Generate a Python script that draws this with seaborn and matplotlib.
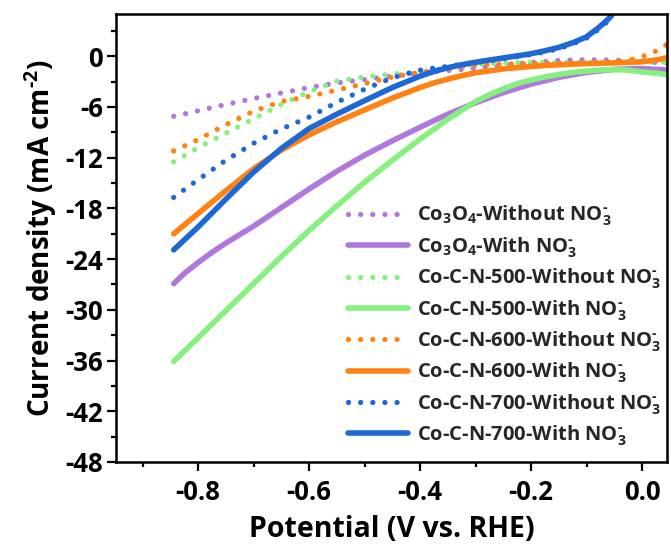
import matplotlib
matplotlib.use("Agg")
import matplotlib.pyplot as plt
import pandas as pd
import seaborn as sns

# ---------------- data ----------------
x_co3o4_without = [-0.844, -0.80, -0.75, -0.70, -0.65, -0.60, -0.55, -0.50, -0.45, -0.40,
                   -0.35, -0.30, -0.25, -0.20, -0.15, -0.10, -0.05, 0.00, 0.05]
y_co3o4_without = [-7.1, -6.45, -5.7, -5.0, -4.35, -3.7, -3.15, -2.75, -2.35, -1.95,
                   -1.7, -1.4, -1.05, -0.75, -0.5, -0.4, -0.45, -0.6, -0.85]

x_co3o4_with = [-0.844, -0.825, -0.80, -0.775, -0.75, -0.70, -0.65, -0.60, -0.55, -0.50,
                -0.45, -0.40, -0.35, -0.30, -0.25, -0.20, -0.15, -0.10, -0.05, 0.00, 0.05]
y_co3o4_with = [-26.9, -25.7, -24.4, -23.2, -22.1, -20.1, -17.9, -15.7, -13.6, -11.7,
                -10.0, -8.4, -6.85, -5.5, -4.3, -3.3, -2.5, -1.9, -1.55, -1.45, -1.65]

x_ccn500_without = [-0.844, -0.80, -0.75, -0.70, -0.65, -0.60, -0.55, -0.50, -0.45, -0.40,
                    -0.35, -0.30, -0.25, -0.20, -0.15, -0.10, -0.05, 0.00, 0.05]
y_ccn500_without = [-12.5, -10.8, -9.1, -7.4, -5.7, -4.2, -2.95, -2.45, -2.1, -1.8,
                    -1.3, -0.95, -0.8, -0.75, -0.75, -0.75, -0.75, -0.72, -0.68]

x_ccn500_with = [-0.844, -0.80, -0.75, -0.70, -0.65, -0.60, -0.55, -0.50, -0.45, -0.40,
                 -0.35, -0.30, -0.275, -0.25, -0.225, -0.20, -0.175, -0.15, -0.125, -0.10,
                 -0.075, -0.05, -0.025, 0.00, 0.025, 0.05]
y_ccn500_with = [-36.1, -33.3, -30.1, -26.9, -23.7, -20.6, -17.7, -14.9, -12.3, -9.8,
                 -7.45, -5.35, -4.55, -3.85, -3.25, -2.8, -2.45, -2.15, -1.9, -1.75,
                 -1.62, -1.58, -1.65, -1.85, -2.0, -2.2]

x_ccn600_without = [-0.844, -0.80, -0.75, -0.70, -0.65, -0.60, -0.55, -0.50, -0.45, -0.40,
                    -0.35, -0.30, -0.25, -0.20, -0.15, -0.10, -0.05, -0.025, 0.00, 0.025,
                    0.05]
y_ccn600_without = [-11.2, -9.85, -8.1, -6.5, -5.35, -4.75, -4.0, -3.25, -2.45, -1.9,
                    -1.4, -1.05, -0.92, -0.88, -0.85, -0.8, -0.72, -0.5, -0.05, 0.6,
                    1.6]

x_ccn600_with = [-0.844, -0.80, -0.75, -0.70, -0.65, -0.60, -0.55, -0.50, -0.45, -0.40,
                 -0.375, -0.35, -0.325, -0.30, -0.25, -0.20, -0.15, -0.10, -0.05, 0.00,
                 0.025, 0.05]
y_ccn600_with = [-21.0, -18.6, -15.9, -13.3, -11.1, -9.3, -7.75, -6.35, -4.95, -3.7,
                 -3.15, -2.7, -2.3, -1.95, -1.5, -1.2, -1.0, -0.87, -0.78, -0.65,
                 -0.45, -0.1]

x_ccn700 = [-0.844, -0.80, -0.75, -0.70, -0.65, -0.60, -0.55, -0.50, -0.45, -0.40,
            -0.375, -0.35, -0.325, -0.30, -0.25, -0.20, -0.175, -0.15, -0.125, -0.10,
            -0.09, -0.08, -0.07, -0.06, -0.055]
y_ccn700_without = [-16.7, -14.6, -12.3, -10.3, -8.6, -7.2, -5.45, -3.9, -2.55, -1.65,
                    -1.4, -1.2, -0.95, -0.75, -0.3, 0.2, 0.5, 0.9, 1.45, 2.15,
                    2.6, 3.1, 3.65, 4.25, 4.6]
y_ccn700_with = [-22.9, -20.2, -16.9, -13.7, -10.9, -8.55, -6.85, -5.25, -3.7, -2.35,
                 -1.8, -1.35, -1.0, -0.7, -0.2, 0.3, 0.65, 1.05, 1.6, 2.3,
                 2.8, 3.3, 3.85, 4.45, 4.8]

series_labels = [
    r"Co$_\mathbf{3}$O$_\mathbf{4}$-Without NO$_\mathbf{3}^{\text{-}}$",
    r"Co$_\mathbf{3}$O$_\mathbf{4}$-With NO$_\mathbf{3}^{\text{-}}$",
    r"Co-C-N-500-Without NO$_\mathbf{3}^{\text{-}}$",
    r"Co-C-N-500-With NO$_\mathbf{3}^{\text{-}}$",
    r"Co-C-N-600-Without NO$_\mathbf{3}^{\text{-}}$",
    r"Co-C-N-600-With NO$_\mathbf{3}^{\text{-}}$",
    r"Co-C-N-700-Without NO$_\mathbf{3}^{\text{-}}$",
    r"Co-C-N-700-With NO$_\mathbf{3}^{\text{-}}$",
]
series_x = [x_co3o4_without, x_co3o4_with, x_ccn500_without, x_ccn500_with,
            x_ccn600_without, x_ccn600_with, x_ccn700, x_ccn700]
series_y = [y_co3o4_without, y_co3o4_with, y_ccn500_without, y_ccn500_with,
            y_ccn600_without, y_ccn600_with, y_ccn700_without, y_ccn700_with]
series_dotted = [True, False, True, False, True, False, True, False]
series_colors = ["#B077DE", "#B077DE", "#86F07E", "#86F07E",
                 "#FF8212", "#FF8212", "#1D67D6", "#1D67D6"]

x_ticks = [-0.8, -0.6, -0.4, -0.2, 0.0]
x_tick_labels = ["-0.8", "-0.6", "-0.4", "-0.2", "0.0"]
y_ticks = [0, -6, -12, -18, -24, -30, -36, -42, -48]
y_tick_labels = ["0", "-6", "-12", "-18", "-24", "-30", "-36", "-42", "-48"]

# ---------------- style ----------------
sns.set_theme(style="ticks")
plt.rcParams["font.family"] = ["Open Sans", "DejaVu Sans"]
plt.rcParams["mathtext.fontset"] = "custom"
plt.rcParams["mathtext.rm"] = "Open Sans:bold"
plt.rcParams["mathtext.it"] = "Open Sans:bold:italic"
plt.rcParams["mathtext.bf"] = "Open Sans:bold"
plt.rcParams["axes.unicode_minus"] = False

fig = plt.figure(figsize=(6.71, 5.46), dpi=100)
ax = fig.add_axes([116 / 671, 84 / 546, 551 / 671, 448 / 546])

for lab, xs, ys, dotted, col in zip(series_labels, series_x, series_y,
                                    series_dotted, series_colors):
    df = pd.DataFrame({"Potential": xs, "Current": ys})
    if dotted:
        sns.lineplot(data=df, x="Potential", y="Current", ax=ax, color=col,
                     lw=3.8, linestyle=(0, (0.001, 2.3)), dash_capstyle="round",
                     label=lab, sort=False)
    else:
        sns.lineplot(data=df, x="Potential", y="Current", ax=ax, color=col,
                     lw=4.0, solid_capstyle="round", solid_joinstyle="round",
                     label=lab, sort=False)

ax.set_xlim(-0.948, 0.045)
ax.set_ylim(-48, 5)
ax.set_xticks(x_ticks)
ax.set_xticklabels(x_tick_labels)
ax.set_yticks(y_ticks)
ax.set_yticklabels(y_tick_labels)
ax.set_xticks([-0.9, -0.7, -0.5, -0.3, -0.1], minor=True)
ax.set_yticks([3, -3, -9, -15, -21, -27, -33, -39, -45], minor=True)
ax.tick_params(which="major", direction="out", length=6.5, width=1.6,
               labelsize=18.5, color="black", labelcolor="black")
ax.tick_params(which="minor", direction="out", length=3.5, width=1.6, color="black")
ax.tick_params(axis="x", which="major", pad=6)
ax.tick_params(axis="y", which="major", pad=3)
for lbl in ax.get_xticklabels() + ax.get_yticklabels():
    lbl.set_fontweight("bold")
for sp in ax.spines.values():
    sp.set_linewidth(1.8)
    sp.set_color("black")
    sp.set_visible(True)

ax.set_xlabel("Potential (V vs. RHE)", fontsize=20.5, fontweight="bold",
              color="black", labelpad=6)
ax.set_ylabel(r"Current density (mA cm$^{\text{-}\mathbf{2}}$)", fontsize=20,
              fontweight="bold", color="black", labelpad=4)

leg = ax.legend(loc="upper left", bbox_to_anchor=(348 / 671, 1 - 204 / 546),
                bbox_transform=fig.transFigure, frameon=False, borderpad=0,
                borderaxespad=0, handlelength=3.0, handletextpad=0.45,
                labelspacing=0.34, prop={"size": 14.5, "weight": "bold"})

fig.savefig("out.png", dpi=100)
